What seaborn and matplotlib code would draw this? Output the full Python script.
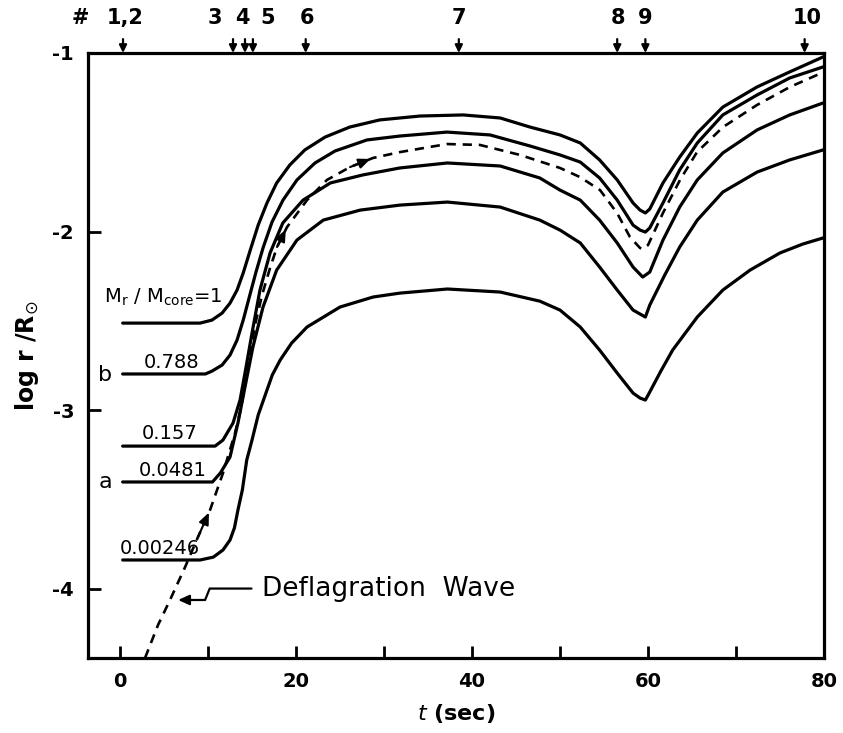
import matplotlib
matplotlib.use("Agg")
import matplotlib.pyplot as plt
import seaborn as sns
import pandas as pd

# ---- data: t (sec), log r / R_sun ----
t_m1 = [0.3, 9.1, 10.45, 11.6, 12.5, 13.3, 14.0, 14.8, 15.7, 16.7, 17.8, 19.3, 21.0, 23.3, 26.1, 29.5, 34.1,
        39.0, 43.2, 46.6, 50.0, 52.3, 54.5, 56.5, 58.3, 59.1, 59.7, 60.2, 61.7, 63.6, 65.6, 68.5, 72.4, 76.1, 79.9]
v_m1 = [-2.513, -2.513, -2.496, -2.457, -2.401, -2.328, -2.232, -2.104, -1.964, -1.840, -1.728, -1.627, -1.543,
        -1.471, -1.415, -1.375, -1.353, -1.347, -1.364, -1.415, -1.459, -1.504, -1.599, -1.711, -1.840, -1.880,
        -1.896, -1.874, -1.728, -1.583, -1.448, -1.303, -1.190, -1.106, -1.022]

t_788 = [0.3, 9.7, 10.45, 11.6, 12.5, 13.3, 14.0, 14.66, 15.45, 16.25, 17.27, 18.52, 20.11, 22.16, 24.43, 28.07,
         31.82, 37.16, 42.05, 46.6, 50.0, 52.3, 54.5, 56.5, 58.3, 59.1, 59.7, 60.2, 61.7, 63.6, 65.6, 68.5, 72.4,
         76.1, 79.9]
v_788 = [-2.798, -2.798, -2.782, -2.748, -2.692, -2.608, -2.496, -2.373, -2.227, -2.092, -1.947, -1.824, -1.711,
         -1.616, -1.549, -1.487, -1.465, -1.443, -1.459, -1.521, -1.571, -1.611, -1.700, -1.824, -1.964, -1.992,
         -2.003, -1.980, -1.840, -1.655, -1.504, -1.347, -1.235, -1.140, -1.078]

t_157 = [0.3, 10.8, 11.7, 12.84, 13.64, 14.2, 15.0, 15.9, 17.05, 18.5, 20.8, 23.9, 27.6, 31.8, 37.2, 43.2, 47.7,
         50.0, 52.3, 54.5, 56.5, 58.3, 59.4, 60.2, 61.7, 63.6, 65.6, 68.5, 72.4, 76.1, 79.9]
v_157 = [-3.202, -3.202, -3.168, -3.073, -2.944, -2.793, -2.569, -2.328, -2.120, -1.952, -1.824, -1.728, -1.683,
         -1.644, -1.616, -1.633, -1.700, -1.768, -1.824, -1.936, -2.064, -2.199, -2.255, -2.227, -2.048, -1.863,
         -1.711, -1.560, -1.431, -1.347, -1.280]

t_0481 = [0.3, 10.5, 11.4, 12.5, 13.4, 14.2, 15.1, 16.25, 17.8, 20.1, 23.1, 27.3, 31.8, 37.2, 43.2, 47.7, 50.0,
          52.3, 54.5, 56.5, 58.3, 59.7, 60.2, 61.9, 63.6, 65.6, 68.5, 72.4, 76.1, 79.9]
v_0481 = [-3.403, -3.403, -3.353, -3.263, -3.073, -2.871, -2.647, -2.423, -2.216, -2.048, -1.936, -1.880, -1.852,
          -1.835, -1.863, -1.936, -1.992, -2.064, -2.199, -2.328, -2.440, -2.479, -2.412, -2.244, -2.087, -1.936,
          -1.779, -1.667, -1.599, -1.543]

t_00246 = [0.3, 9.1, 10.6, 11.7, 12.5, 13.0, 13.4, 13.9, 14.4, 15.0, 15.7, 16.5, 17.3, 18.2, 19.5, 21.25, 25.0,
           28.75, 31.8, 37.2, 43.2, 47.7, 50.0, 52.3, 54.5, 56.5, 58.3, 59.1, 59.7, 60.2, 61.4, 62.8, 65.6, 68.5,
           71.6, 75.0, 77.6, 79.9]
v_00246 = [-3.840, -3.840, -3.824, -3.784, -3.728, -3.660, -3.560, -3.448, -3.280, -3.168, -3.028, -2.916, -2.804,
           -2.720, -2.625, -2.535, -2.423, -2.367, -2.345, -2.322, -2.339, -2.390, -2.440, -2.535, -2.664, -2.793,
           -2.905, -2.933, -2.944, -2.899, -2.787, -2.664, -2.479, -2.328, -2.216, -2.120, -2.070, -2.036]

# deflagration wave (dashed)
t_wave = [2.84, 4.32, 5.68, 7.39, 8.86, 10.23, 11.7, 13.07, 13.75, 14.2, 14.77, 15.34, 16.14, 17.05, 17.84, 18.98,
          21.25, 23.52, 26.14, 28.75, 31.82, 37.16, 40.9, 45.45, 50.0, 52.27, 54.55, 56.48, 57.95, 59.09, 59.32,
          60.0, 61.7, 63.64, 65.57, 68.52, 72.39, 76.14, 80.0]
v_wave = [-4.389, -4.204, -4.064, -3.880, -3.711, -3.560, -3.353, -3.129, -2.989, -2.860, -2.692, -2.524, -2.356,
          -2.204, -2.087, -1.975, -1.824, -1.711, -1.639, -1.588, -1.555, -1.510, -1.515, -1.571, -1.644, -1.695,
          -1.768, -1.896, -2.031, -2.092, -2.098, -2.076, -1.896, -1.711, -1.555, -1.415, -1.291, -1.190, -1.106]
wave_arrow_idx = [4, 14, 18]

shell_labels = [r"M$_\mathregular{r}$ / M$_\mathregular{core}$=1", "0.788", "0.157", "0.0481", "0.00246"]
shell_label_t = [4.9, 5.9, 5.6, 6.0, 4.5]
shell_label_v = [-2.37, -2.731, -3.129, -3.336, -3.773]
side_letters = ["b", "a"]
side_letter_t = [-1.7, -1.7]
side_letter_v = [-2.804, -3.403]

top_labels = ["1,2", "3", "4", "5", "6", "7", "8", "9", "10"]
top_label_t = [0.57, 10.8, 13.9, 16.8, 21.25, 38.5, 56.6, 59.7, 78.1]
top_arrow_t = [0.34, 12.84, 14.2, 15.1, 21.1, 38.5, 56.5, 59.7, 77.8]

xtick_pos = [0, 10, 20, 30, 40, 50, 60, 70, 80]
xtick_lab = ["0", "", "20", "", "40", "", "60", "", "80"]
ytick_pos = [-4, -3, -2, -1]
ytick_lab = ["-4", "-3", "-2", "-1"]

# ---- style ----
sns.set_style("ticks")
plt.rcParams["font.family"] = ["DejaVu Sans"]
plt.rcParams["axes.unicode_minus"] = False
plt.rcParams["text.color"] = "black"
plt.rcParams["axes.labelcolor"] = "black"
plt.rcParams["xtick.color"] = "black"
plt.rcParams["ytick.color"] = "black"

fig = plt.figure(figsize=(8.43, 7.33), dpi=100)
ax = fig.add_axes([88 / 843, 1 - 658 / 733, (824 - 88) / 843, (658 - 53) / 733])

frames = []
for name, tt, vv in [("1", t_m1, v_m1), ("0.788", t_788, v_788), ("0.157", t_157, v_157),
                     ("0.0481", t_0481, v_0481), ("0.00246", t_00246, v_00246)]:
    frames.append(pd.DataFrame({"t": tt, "v": vv, "shell": name}))
df = pd.concat(frames, ignore_index=True)

for name, g in df.groupby("shell", sort=False):
    sns.lineplot(data=g, x="t", y="v", ax=ax, color="black", lw=2.3, estimator=None, sort=False,
                 solid_joinstyle="round", solid_capstyle="round")

wave = pd.DataFrame({"t": t_wave, "v": v_wave})
sns.lineplot(data=wave, x="t", y="v", ax=ax, color="black", lw=1.9, estimator=None, sort=False,
             linestyle=(0, (3.5, 2.6)))
for i in wave_arrow_idx:
    ax.annotate("", xy=(t_wave[i + 1], v_wave[i + 1]), xytext=(t_wave[i], v_wave[i]),
                arrowprops=dict(arrowstyle="-|>,head_length=0.7,head_width=0.3", color="black",
                                lw=1.5, shrinkA=0, shrinkB=2))

ax.set_xlim(-3.64, 80.0)
ax.set_ylim(-4.389, -1.0)

# shell labels
for s, tt, vv in zip(shell_labels, shell_label_t, shell_label_v):
    ax.text(tt, vv, s, ha="center", va="center", fontsize=14)
for s, tt, vv in zip(side_letters, side_letter_t, side_letter_v):
    ax.text(tt, vv, s, ha="center", va="center", fontsize=16)

# deflagration wave annotation (arm lengths are in pixels)
ax.annotate("Deflagration  Wave", xy=(6.6, -4.064), xytext=(16.1, -4.0), fontsize=19,
            ha="left", va="center",
            arrowprops=dict(arrowstyle="-|>,head_length=0.55,head_width=0.25", mutation_scale=12,
                            color="black", lw=1.6, relpos=(0, 0.5), shrinkA=5, shrinkB=0,
                            connectionstyle="arc,angleA=180,armA=52,angleB=0,armB=27,rad=0"))

# top markers
trans = ax.get_xaxis_transform()
for tt in top_arrow_t:
    ax.annotate("", xy=(tt, 1.0), xycoords=trans, xytext=(0, 10), textcoords="offset points",
                arrowprops=dict(arrowstyle="-|>,head_length=0.45,head_width=0.22", color="black",
                                lw=1.6, shrinkA=0, shrinkB=0), annotation_clip=False)
for s, tt in zip(top_labels, top_label_t):
    ax.annotate(s, xy=(tt, 1.0), xycoords=trans, xytext=(0, 25), textcoords="offset points",
                ha="center", va="center", fontsize=15, fontweight="bold", annotation_clip=False)
ax.annotate("#", xy=(-4.55, 1.0), xycoords=trans, xytext=(0, 25), textcoords="offset points",
            ha="center", va="center", fontsize=15, fontweight="bold", annotation_clip=False)

# axes
for sp in ax.spines.values():
    sp.set_linewidth(2.3)
    sp.set_color("black")
ax.set_xticks(xtick_pos)
ax.set_xticklabels(xtick_lab)
ax.set_yticks(ytick_pos)
ax.set_yticklabels(ytick_lab)
ax.tick_params(direction="in", length=9, width=2, labelsize=14, pad=10, top=False, right=False,
               colors="black")
for lbl in ax.get_xticklabels() + ax.get_yticklabels():
    lbl.set_fontweight("bold")

ax.set_xlabel(r"$\it{t}$ (sec)", fontsize=16, fontweight="bold", labelpad=8)
ax.set_ylabel(r"log r /R$_{\odot}$", fontsize=17, fontweight="bold", labelpad=8)

fig.savefig("out.png", dpi=100)
